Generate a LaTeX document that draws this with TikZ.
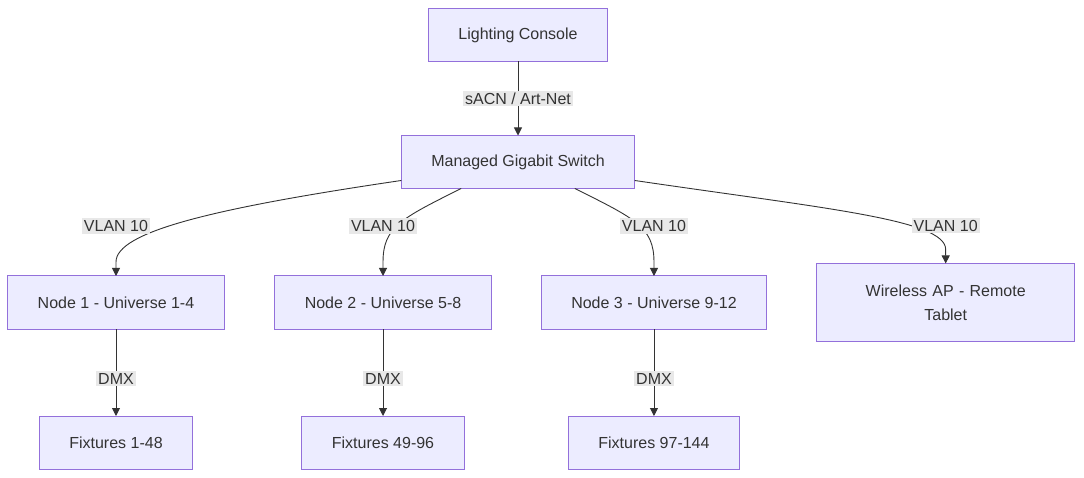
\documentclass[tikz,border=0pt]{standalone}
\usepackage{fontspec}
\setmainfont{Liberation Sans}
\usetikzlibrary{arrows.meta,positioning}
\definecolor{boxfill}{HTML}{ECECFF}
\definecolor{boxline}{HTML}{9370DB}
\definecolor{ink}{HTML}{333333}
\definecolor{lblbg}{HTML}{E8E8E8}
\tikzset{
  box/.style={draw=boxline, fill=boxfill, line width=1pt, align=center, text=ink,
              font=\fontsize{16}{24}\selectfont, minimum height=53pt,
              inner xsep=30pt, inner ysep=4pt, outer sep=0pt},
  lbl/.style={fill=lblbg, text=ink, font=\fontsize{16}{19}\selectfont, inner sep=2pt},
  arr/.style={-{Triangle[length=8pt, width=8pt]}, line width=0.9pt, draw=ink}
}

\begin{document}
\begin{tikzpicture}[x=1pt, y=1pt, node distance=74pt and 50.5pt]
    \useasboundingbox (0,0) rectangle (1084,-478);
    \node[box] (con) at (518,-35) {Lighting Console};
    \node[box, below=of con] (sw) {Managed Gigabit Switch};
    \node[box] (n1) at (116,-302.5) {Node 1 - Universe 1-4};
    \node[box, right=of n1] (n2) {Node 2 - Universe 5-8};
    \node[box, right=of n2, inner xsep=29.5pt] (n3) {Node 3 - Universe 9-12};
    \node[box, right=of n3, text width=198pt, minimum height=78pt] (ap) {Wireless AP - Remote\\Tablet};
    \node[box, below=87pt of n1] (f1) {Fixtures 1-48};
    \node[box, below=87pt of n2] (f2) {Fixtures 49-96};
    \node[box, below=87pt of n3] (f3) {Fixtures 97-144};

    \draw[arr] (con) -- node[lbl] {sACN / Art-Net} (sw);
    % switch fans out to the nodes
    \draw[arr] (sw.189) .. controls +(-190,-28) and +(0,30) .. ([yshift=14]n1.north) -- (n1.north);
    \draw[arr] (sw.205) .. controls +(-60,-30) and +(0,35) .. ([yshift=14]n2.north) -- (n2.north);
    \draw[arr] (sw.335) .. controls +(60,-30) and +(0,35) .. ([yshift=14]n3.north) -- (n3.north);
    \draw[arr] (sw.351) .. controls +(190,-28) and +(0,30) .. ([yshift=14]ap.north) -- (ap.north);
    \node[lbl] (v1) at ([yshift=50]n1.north) {VLAN 10};
    \node[lbl] (v2) at ([yshift=50]n2.north) {VLAN 10};
    \node[lbl] (v3) at ([yshift=50]n3.north) {VLAN 10};
    \node[lbl] (v4) at ([yshift=38]ap.north) {VLAN 10};

    \draw[arr] (n1) -- node[lbl, pos=0.57] {DMX} (f1);
    \draw[arr] (n2) -- node[lbl, pos=0.57] {DMX} (f2);
    \draw[arr] (n3) -- node[lbl, pos=0.57] {DMX} (f3);
\end{tikzpicture}
\end{document}
